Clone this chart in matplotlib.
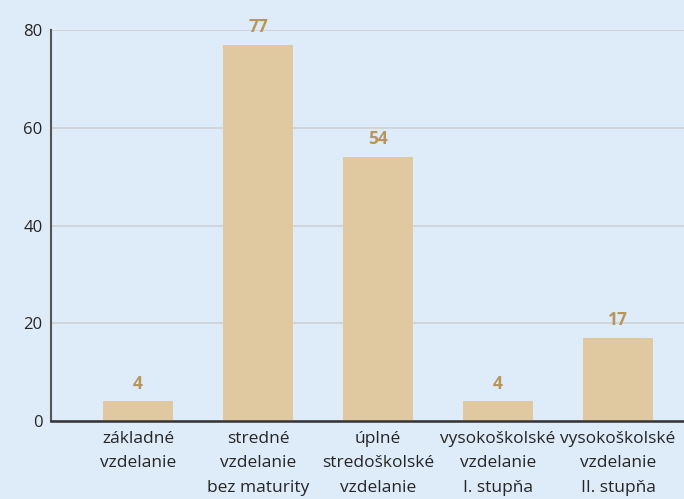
import matplotlib
matplotlib.use("Agg")
import matplotlib.pyplot as plt

categories = ["základné\nvzdelanie", "stredné\nvzdelanie\nbez maturity",
              "úplné\nstredoškolské\nvzdelanie", "vysokoškolské\nvzdelanie\nI. stupňa",
              "vysokoškolské\nvzdelanie\nII. stupňa"]
values = [4, 77, 54, 4, 17]
yticks = [0, 20, 40, 60, 80]

plt.rcParams['font.family'] = ['Open Sans', 'DejaVu Sans']
bg = "#deebf8"
fig = plt.figure(figsize=(6.84, 4.99), dpi=100, facecolor=bg)
ax = fig.add_axes([51/684, 78/499, 1 - 51/684, (421-30)/499])
ax.set_facecolor(bg)
x = list(range(len(categories)))
bars = ax.bar(x, values, width=0.585, color="#e0c8a0", zorder=3)
for xi, v in zip(x, values):
    ax.text(xi, v + 1.8, str(v), ha="center", va="bottom", fontsize=12.5,
            fontweight="bold", color="#b8955a", zorder=4)
ax.set_xlim(-0.725, 4.55)
ax.set_ylim(0, 80)
ax.set_yticks(yticks)
ax.set_yticklabels([str(t) for t in yticks], fontsize=12, color="#262626")
ax.yaxis.grid(True, color="#cdd1d6", linewidth=1.2, zorder=0)
ax.set_xticks(x)
ax.set_xticklabels(categories, fontsize=12.5, color="#262626", linespacing=1.72)
ax.tick_params(axis="both", length=0, pad=6)
ax.tick_params(axis="x", pad=7)
for s in ["top", "right"]:
    ax.spines[s].set_visible(False)
ax.spines["left"].set_color("#555555")
ax.spines["left"].set_linewidth(1.5)
ax.spines["bottom"].set_color("#333333")
ax.spines["bottom"].set_linewidth(1.8)
ax.spines["bottom"].set_zorder(5)
fig.savefig("out.png", dpi=100, facecolor=bg)
